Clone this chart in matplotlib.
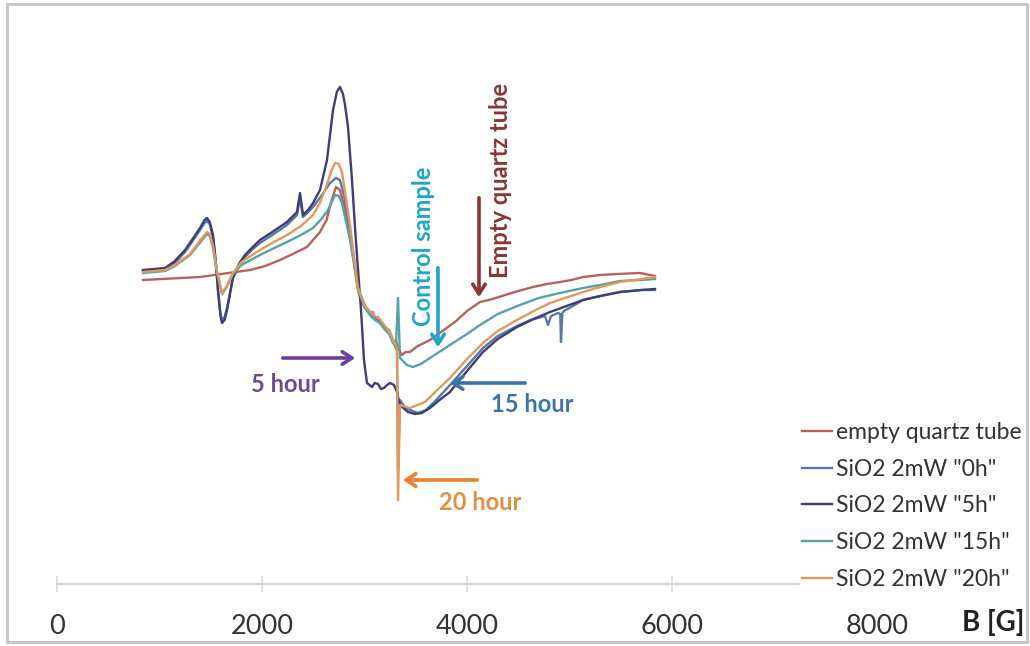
import numpy as np
import matplotlib.pyplot as plt
from matplotlib.patches import Rectangle

plt.rcParams['font.family'] = ['Lato', 'DejaVu Sans']

# EPR spectra, B in gauss, signal in arbitrary units
b_empty = [839, 1395, 1883, 2030, 2176, 2300, 2439, 2566, 2630, 2680, 2722, 2760, 2800, 2859, 2900,
           2937, 2970, 3005, 3050, 3080, 3102, 3130, 3150, 3180, 3200, 3240, 3278, 3310, 3327, 3366,
           3400, 3444, 3520, 3639, 3760, 3883, 4000, 4127, 4250, 4371, 4500, 4644, 4780, 4907, 5020,
           5132, 5300, 5463, 5688, 5834]
s_empty = [2.0, 2.3, 3.0, 3.4, 4.0, 4.6, 5.3, 6.8, 8.0, 10.0, 11.3, 11.0, 9.5, 6.5, 3.5,
           1.0, -0.2, -0.8, -1.3, -1.2, -1.8, -1.7, -2.1, -2.4, -2.8, -3.0, -4.0, -4.2, -4.8, -5.5,
           -5.2, -5.2, -4.6, -4.0, -3.1, -2.2, -1.1, -0.2, 0.1, 0.5, 0.9, 1.3, 1.6, 1.8, 2.0,
           2.3, 2.5, 2.6, 2.7, 2.4]

b_0h = [839, 1054, 1150, 1249, 1330, 1395, 1440, 1463, 1490, 1522, 1550, 1571, 1595, 1610, 1635, 1659,
        1717, 1780, 1834, 1900, 1980, 2100, 2244, 2341, 2371, 2400, 2450, 2498, 2585, 2663, 2722,
        2760, 2800, 2859, 2900, 2937, 3005, 3060, 3102, 3160, 3200, 3250, 3278, 3317, 3327,
        3346, 3400, 3444, 3522, 3600, 3700, 3834, 4000, 4156, 4300, 4488, 4620, 4761, 4790, 4820,
        4888, 4910, 4917, 4930, 4946, 5050, 5132, 5300, 5493, 5700, 5834]
s_0h = [2.9, 3.1, 3.7, 4.8, 6.0, 7.0, 7.7, 7.9, 7.6, 6.2, 3.6, 0.8, -1.4, -2.0, -1.7, -0.8,
        2.2, 3.5, 4.3, 5.0, 5.7, 6.5, 7.5, 8.5, 10.2, 8.3, 8.8, 9.3, 10.5, 11.7, 12.2,
        12.0, 10.5, 7.0, 4.0, 1.2, -0.6, -1.5, -1.8, -2.4, -2.7, -3.4, -4.2, -5.0, -17.0,
        -10.0, -10.8, -11.0, -11.3, -11.0, -10.0, -8.5, -6.6, -4.8, -3.6, -2.6, -2.0, -1.6, -2.5, -1.6,
        -1.3, -1.4, -4.2, -1.3, -1.1, -0.5, 0.0, 0.4, 0.8, 1.0, 1.0]

b_5h = [839, 1054, 1150, 1249, 1330, 1395, 1440, 1463, 1490, 1522, 1550, 1571, 1595, 1610, 1635, 1659,
        1717, 1780, 1834, 1900, 1980, 2100, 2244, 2341, 2371, 2400, 2450, 2498, 2566, 2634, 2693,
        2730, 2761, 2790, 2810, 2839, 2878, 2907, 2937, 2966, 2995, 3024, 3050, 3073, 3100, 3132,
        3160, 3190, 3220, 3249, 3288, 3317, 3346, 3424, 3493, 3560, 3639, 3720, 3834, 4000, 4156,
        4300, 4488, 4650, 4810, 5132, 5300, 5493, 5700, 5834]
s_5h = [3.0, 3.2, 3.9, 5.0, 6.2, 7.2, 8.0, 8.2, 7.8, 6.5, 3.8, 1.0, -1.6, -2.3, -2.0, -1.0,
        2.3, 3.7, 4.5, 5.2, 6.0, 6.8, 7.8, 8.8, 10.7, 8.5, 9.0, 9.7, 11.0, 14.0, 19.0,
        20.8, 21.3, 20.6, 19.5, 17.3, 12.0, 7.3, 3.0, -1.0, -6.0, -8.3, -8.5, -8.7, -8.3, -8.4,
        -8.9, -8.8, -8.5, -8.3, -8.5, -9.2, -10.5, -11.2, -11.4, -11.3, -10.8, -10.1, -9.2, -7.1, -5.2,
        -3.9, -2.7, -1.9, -1.2, 0.0, 0.4, 0.8, 1.0, 1.1]

b_15h = [839, 1054, 1150, 1298, 1400, 1463, 1490, 1522, 1560, 1610, 1650, 1717, 1800, 1980, 2100, 2244,
         2380, 2498, 2580, 2644, 2712, 2750, 2780, 2859, 2900, 2937, 3005, 3060, 3102, 3150, 3200,
         3240, 3278, 3307, 3327, 3346, 3415, 3473, 3550, 3639, 3834, 4000, 4127, 4300, 4517, 4700,
         4907, 5132, 5300, 5493, 5700, 5834]
s_15h = [2.7, 2.9, 3.4, 4.5, 5.8, 6.6, 6.4, 5.2, 2.8, 0.6, 1.2, 2.6, 3.5, 4.5, 5.1, 5.8,
         6.5, 7.2, 8.1, 9.0, 10.5, 10.4, 9.7, 6.0, 3.5, 1.0, -0.8, -1.6, -2.0, -2.3, -3.0,
         -3.4, -4.3, -4.5, 0.2, -5.8, -6.5, -6.7, -6.4, -5.8, -4.5, -3.4, -2.5, -1.4, -0.5, 0.2,
         0.7, 1.2, 1.5, 1.9, 2.0, 2.1]

b_20h = [839, 1054, 1150, 1298, 1400, 1463, 1490, 1522, 1560, 1610, 1650, 1717, 1800, 1980, 2100, 2244,
         2380, 2498, 2560, 2615, 2680, 2712, 2750, 2780, 2859, 2900, 2937, 3005, 3050, 3102, 3150,
         3200, 3240, 3278, 3317, 3327, 3346, 3444, 3590, 3700, 3834, 4000, 4156, 4300, 4488, 4650,
         4810, 5132, 5300, 5493, 5700, 5834]
s_20h = [2.8, 3.0, 3.5, 4.6, 6.0, 6.8, 6.6, 5.4, 3.0, 0.7, 1.3, 2.7, 3.8, 5.0, 5.7, 6.5,
         7.4, 8.5, 9.6, 11.0, 13.0, 13.7, 13.6, 12.8, 7.5, 4.0, 1.2, -0.6, -1.1, -1.6, -1.9,
         -2.6, -3.1, -4.0, -4.8, -20.0, -10.5, -10.8, -10.2, -9.1, -7.8, -5.9, -4.3, -3.1, -2.0, -1.1,
         -0.3, 0.8, 1.3, 1.8, 2.1, 2.3]

labels = ['empty quartz tube', 'SiO2 2mW "0h"', 'SiO2 2mW "5h"', 'SiO2 2mW "15h"', 'SiO2 2mW "20h"']
colors = ['#b8615f', '#5878a8', '#3e3d78', '#55a2a8', '#e29a5a']
xticks = [0, 2000, 4000, 6000, 8000]

fig = plt.figure(figsize=(10.3, 6.46), dpi=100)
W, H = 1030, 646
ax = fig.add_axes([57 / W, (H - 584) / H, 922.5 / W, (584 - 30) / H])

series = [(b_empty, s_empty), (b_0h, s_0h), (b_5h, s_5h), (b_15h, s_15h), (b_20h, s_20h)]
lines = []
for (b, s), lab, c in zip(series, labels, colors):
    ln, = ax.plot(b, s, color=c, lw=1.7, label=lab, solid_joinstyle='round')
    lines.append(ln)

ax.set_xlim(0, 9000)
ax.set_ylim(-28.4, 27.0)
ax.set_xticks(xticks)
ax.set_xticklabels([str(t) for t in xticks])
ax.set_yticks([])
for sp in ['top', 'left', 'right']:
    ax.spines[sp].set_visible(False)
ax.spines['bottom'].set_color('#d4d4d4')
ax.spines['bottom'].set_linewidth(1.6)
ax.tick_params(axis='x', direction='inout', length=11, width=1.2, color='#dcdcdc',
               labelsize=19.5, labelcolor='#333333', pad=16)

# annotations
arr = dict(arrowstyle='->,head_length=0.7,head_width=0.45', lw=2.6)
ax.annotate('', xy=(4117, 0.0), xytext=(4117, 10.5), arrowprops=dict(arr, color='#8c3535'))
ax.text(4322, 12.0, 'Empty quartz tube', rotation=90, ha='center', va='center',
        fontsize=17, fontweight='bold', color='#8c3535')
ax.annotate('', xy=(3717, -5.0), xytext=(3717, 3.5), arrowprops=dict(arr, color='#1ea6c9'))
ax.text(3571, 5.4, 'Control sample', rotation=90, ha='center', va='center',
        fontsize=17, fontweight='bold', color='#1ea6c9')
ax.annotate('', xy=(2937, -5.8), xytext=(2176, -5.8), arrowprops=dict(arr, color='#6b3fa0'))
ax.text(2224, -8.5, '5 hour', ha='center', va='center', fontsize=17, fontweight='bold', color='#6b4a9a')
ax.annotate('', xy=(3805, -8.3), xytext=(4595, -8.3), arrowprops=dict(arr, color='#3d74a8'))
ax.text(4634, -10.5, '15 hour', ha='center', va='center', fontsize=17, fontweight='bold', color='#3d74a8')
ax.annotate('', xy=(3346, -18.0), xytext=(4127, -18.0), arrowprops=dict(arr, color='#e8822e'))
ax.text(4127, -20.3, '20 hour', ha='center', va='center', fontsize=17, fontweight='bold', color='#e0903e')

ax.text(993 / W, (H - 623) / H, 'B [G]', transform=fig.transFigure, ha='center', va='center',
        fontsize=20, fontweight='bold', color='#222222')

leg = fig.legend(handles=lines, labels=labels, loc='upper left',
                 bbox_to_anchor=(800 / W, (H - 420) / H), frameon=True, fontsize=16.5,
                 handlelength=1.3, handletextpad=0.15, labelspacing=0.68, borderpad=0.1,
                 borderaxespad=0)
leg.get_frame().set_facecolor('white')
leg.get_frame().set_edgecolor('white')
leg.get_frame().set_alpha(1)
for t in leg.get_texts():
    t.set_color('#333333')

fig.patches.append(Rectangle((7 / W, 4 / H), 1020 / W, 638 / H, transform=fig.transFigure,
                             fill=False, edgecolor='#c8c8c8', lw=2.2))

fig.savefig('out.png', dpi=100)
